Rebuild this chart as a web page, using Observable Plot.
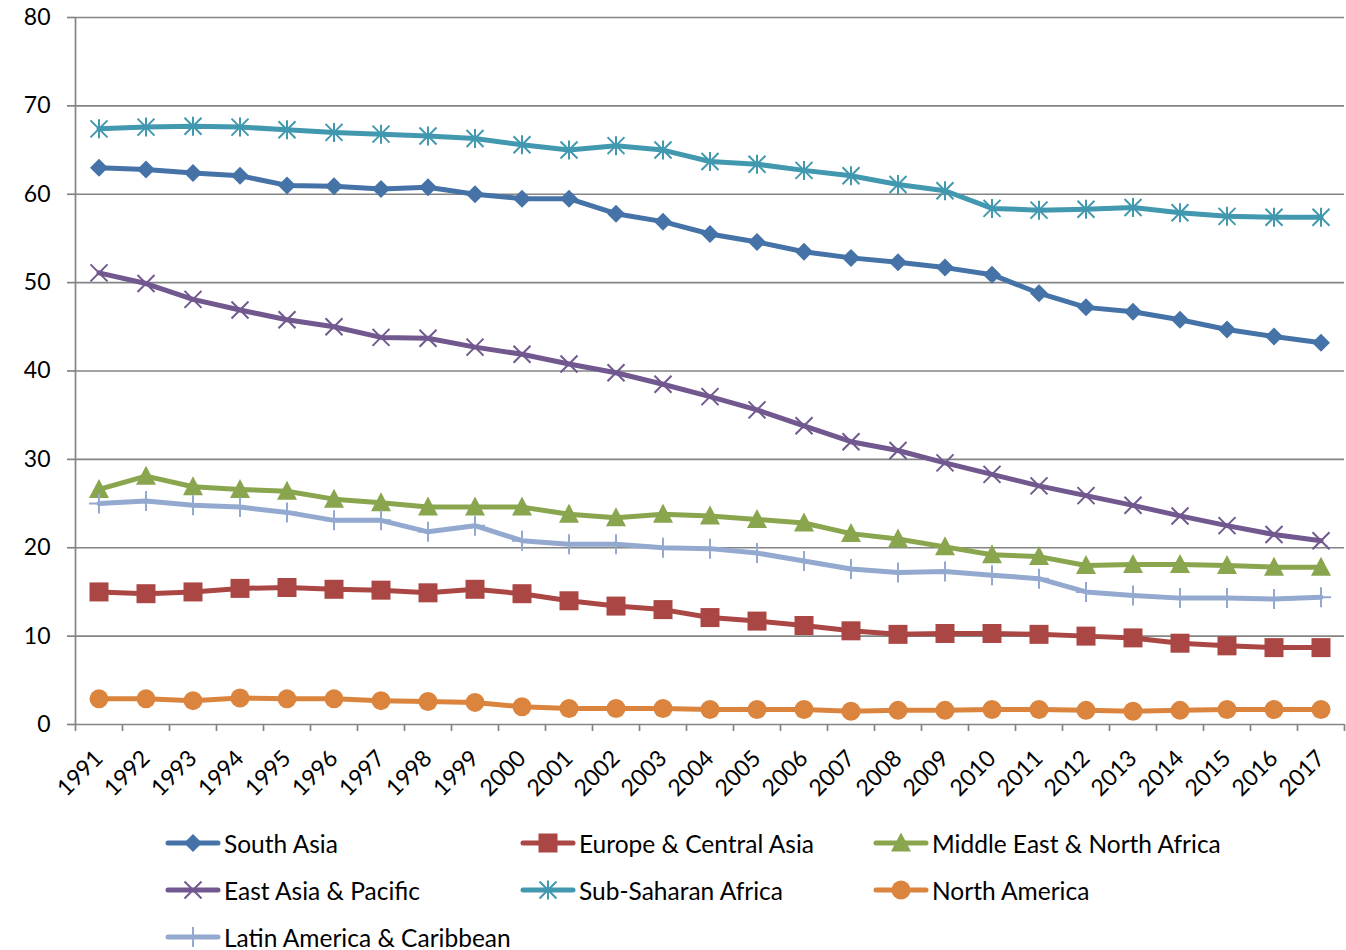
<!DOCTYPE html>
<html>
<head>
<meta charset="utf-8">
<script src="https://cdn.jsdelivr.net/npm/d3@7"></script>
<script src="https://cdn.jsdelivr.net/npm/@observablehq/plot@0.6"></script>
<style>
  html, body { margin: 0; padding: 0; background: #fff; }
  #wrap { position: relative; width: 1346px; height: 950px; font-family: Lato, "Open Sans", sans-serif; }
  .leg { position: absolute; display: flex; align-items: center; font-size: 24.5px; color: #000; white-space: nowrap; }
  .leg svg { display: block; margin-right: 3px; }
</style>
</head>
<body>
<div id="wrap"><div id="chart"></div></div>
<script>
const years = [1991,1992,1993,1994,1995,1996,1997,1998,1999,2000,2001,2002,2003,2004,2005,2006,2007,2008,2009,2010,2011,2012,2013,2014,2015,2016,2017];
const yTicks = [0,10,20,30,40,50,60,70,80];
const seriesNames = ["South Asia","Europe & Central Asia","Middle East & North Africa","East Asia & Pacific","Sub-Saharan Africa","North America","Latin America & Caribbean"];
const southAsia = [63.0,62.8,62.4,62.1,61.0,60.9,60.6,60.8,60.0,59.5,59.5,57.8,56.9,55.5,54.6,53.5,52.8,52.3,51.7,50.9,48.8,47.2,46.7,45.8,44.7,43.9,43.2];
const europeCentralAsia = [15.0,14.8,15.0,15.4,15.5,15.3,15.2,14.9,15.3,14.8,14.0,13.4,13.0,12.1,11.7,11.2,10.6,10.2,10.3,10.3,10.2,10.0,9.8,9.2,8.9,8.7,8.7];
const middleEastNorthAfrica = [26.6,28.1,26.9,26.6,26.4,25.5,25.1,24.6,24.6,24.6,23.8,23.4,23.8,23.6,23.2,22.8,21.6,21.0,20.1,19.2,19.0,18.0,18.1,18.1,18.0,17.8,17.8];
const eastAsiaPacific = [51.1,49.9,48.1,46.9,45.8,45.0,43.8,43.7,42.7,41.9,40.8,39.8,38.5,37.1,35.6,33.8,32.0,31.0,29.6,28.3,27.0,25.9,24.8,23.6,22.5,21.5,20.8];
const subSaharanAfrica = [67.4,67.6,67.7,67.6,67.3,67.0,66.8,66.6,66.3,65.6,65.0,65.5,65.0,63.7,63.4,62.7,62.1,61.1,60.4,58.4,58.2,58.3,58.5,57.9,57.5,57.4,57.4];
const northAmerica = [2.9,2.9,2.7,3.0,2.9,2.9,2.7,2.6,2.5,2.0,1.8,1.8,1.8,1.7,1.7,1.7,1.5,1.6,1.6,1.7,1.7,1.6,1.5,1.6,1.7,1.7,1.7];
const latinAmericaCaribbean = [25.0,25.3,24.8,24.6,24.0,23.1,23.1,21.8,22.5,20.8,20.4,20.4,20.0,19.9,19.4,18.5,17.6,17.2,17.3,16.9,16.5,15.0,14.6,14.3,14.3,14.2,14.4];

const seriesValues = [southAsia, europeCentralAsia, middleEastNorthAfrica, eastAsiaPacific, subSaharanAfrica, northAmerica, latinAmericaCaribbean];
const colors = ["#4572A7","#AA4643","#89A54E","#71588F","#4198AF","#DB843D","#93A9CF"];

// Excel-like marker shapes
const sym = {
  diamond: {draw(c){const r=9;c.moveTo(0,-r);c.lineTo(r,0);c.lineTo(0,r);c.lineTo(-r,0);c.closePath();}},
  square: {draw(c){const r=9.5;c.rect(-r,-r,2*r,2*r);}},
  triangle: {draw(c){c.moveTo(0,-10.5);c.lineTo(10,8.5);c.lineTo(-10,8.5);c.closePath();}},
  times: {draw(c){const r=8.5;c.moveTo(-r,-r);c.lineTo(r,r);c.moveTo(-r,r);c.lineTo(r,-r);}},
  star: {draw(c){const r=8.5;c.moveTo(-r,-r);c.lineTo(r,r);c.moveTo(-r,r);c.lineTo(r,-r);c.moveTo(0,-r-1);c.lineTo(0,r+1);}},
  circle: {draw(c){const r=9.5;c.moveTo(r,0);c.arc(0,0,r,0,2*Math.PI);}},
  plus: {draw(c){const r=10;c.moveTo(0,-r);c.lineTo(0,r);c.moveTo(-r,0);c.lineTo(r,0);}}
};
const markers = [
  {s: sym.diamond, filled: true},
  {s: sym.square, filled: true},
  {s: sym.triangle, filled: true},
  {s: sym.times, filled: false},
  {s: sym.star, filled: false},
  {s: sym.circle, filled: true},
  {s: sym.plus, filled: false}
];

const boundaries = [1990.5].concat(years.map(y => y + 0.5));

const marks = [
  Plot.ruleY(yTicks, {stroke: "#848484", strokeWidth: 1.7}),
  Plot.ruleX([1990.5], {stroke: "#848484", strokeWidth: 1.7}),
  Plot.axisY({ticks: yTicks, tickSize: 8, tickPadding: 17, stroke: "#848484", strokeWidth: 1.7, label: null, fontSize: 23, fill: "#000"}),
  Plot.axisX({ticks: boundaries, tickSize: 7, tickFormat: () => "", stroke: "#848484", strokeWidth: 1.7, label: null}),
  Plot.axisX({ticks: years, tickSize: 0, tickPadding: 30, tickRotate: -45, tickFormat: d => String(d), label: null, fontSize: 23, fill: "#000"})
];

seriesNames.forEach((name, i) => {
  const rows = years.map((y, j) => ({year: y, value: seriesValues[i][j]}));
  marks.push(Plot.line(rows, {x: "year", y: "value", stroke: colors[i], strokeWidth: 5, strokeLinejoin: "round", strokeLinecap: "round"}));
  const m = markers[i];
  marks.push(Plot.dot(rows, {x: "year", y: "value", r: 5, symbol: m.s,
    fill: m.filled ? colors[i] : "none", stroke: colors[i], strokeWidth: m.filled ? 0 : 2}));
});

const chart = Plot.plot({
  width: 1346,
  height: 800,
  marginTop: 17,
  marginBottom: 76,
  marginLeft: 75,
  marginRight: 2,
  style: {fontFamily: "Lato, 'Open Sans', sans-serif", fontSize: "23px", color: "#000", background: "#fff", overflow: "visible"},
  x: {type: "linear", domain: [1990.5, 2017.5], axis: null},
  y: {domain: [0, 80], axis: null},
  marks
});
document.getElementById("chart").appendChild(chart);

// Legend below the chart (3 columns)
const legendPos = [
  [165, 844], [520, 844], [873, 844],
  [165, 891], [520, 891], [873, 891],
  [165, 938]
];
const wrap = document.getElementById("wrap");
seriesNames.forEach((name, i) => {
  const [lx, ly] = legendPos[i];
  const div = document.createElement("div");
  div.className = "leg";
  div.style.left = lx + "px";
  div.style.top = (ly - 17) + "px";
  div.style.height = "32px";
  const svg = d3.create("svg").attr("width", 56).attr("height", 32);
  svg.append("line").attr("x1", 3).attr("x2", 53).attr("y1", 16).attr("y2", 16)
    .attr("stroke", colors[i]).attr("stroke-width", 5).attr("stroke-linecap", "round");
  const m = markers[i];
  const p = d3.path(); m.s.draw(p);
  svg.append("path").attr("d", p.toString()).attr("transform", "translate(28,16)")
    .attr("fill", m.filled ? colors[i] : "none").attr("stroke", m.filled ? "none" : colors[i]).attr("stroke-width", 2);
  div.appendChild(svg.node());
  const span = document.createElement("span");
  span.textContent = name;
  div.appendChild(span);
  wrap.appendChild(div);
});
</script>
</body>
</html>
